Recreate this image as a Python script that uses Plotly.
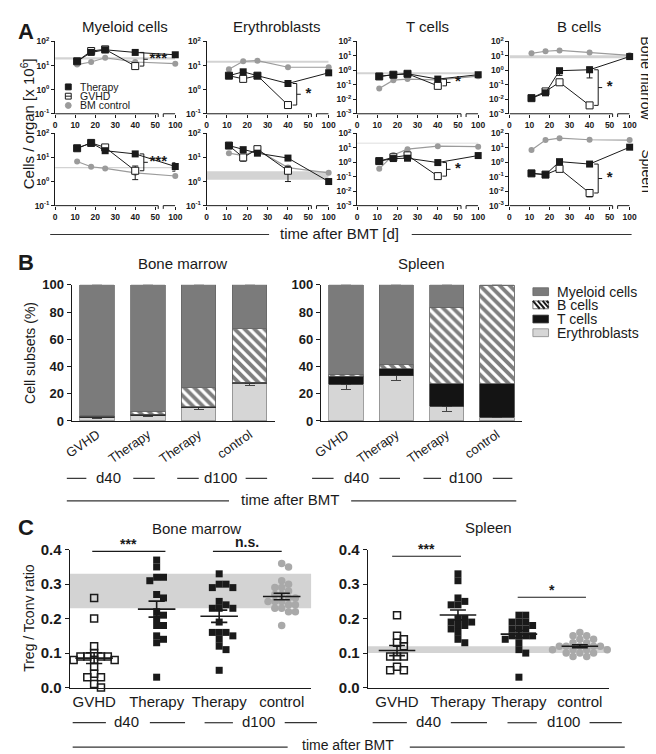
import numpy as np
import plotly.graph_objects as go

W, H = 656, 754
FONT = "Liberation Sans, Arial, Helvetica, sans-serif"
BLACK = "#1a1a1a"
GRAY = "#9b9b9b"
BAND = "#d3d3d3"
LINE = "#333333"

def px(p):
    return p / W

def py(p):
    return 1 - p / H

# ---------------- Panel A data ----------------
days = [11, 18, 25, 40, 100]
gvhd_days = [11, 18, 25, 40]
a_tick_days = [0, 10, 20, 30, 40, 50, 100]
a_titles = ["Myeloid cells", "Erythroblasts", "T cells", "B cells"]
a_rows = ["Bone marrow", "Spleen"]

mye_bm_ther = [15, 35, 45, 35, 28]
mye_bm_gvhd = [15, 40, 47, 9.5]
mye_bm_ctrl = [11, 14, 21, 14, 12]
mye_bm_band = [18, 22]

ery_bm_ther = [3.8, 5.5, 3.8, 1.8, 5.0]
ery_bm_gvhd = [3.8, 2.8, 3.8, 0.23]
ery_bm_ctrl = [7, 15, 16, 8.5, 8.5]
ery_bm_band = [13, 16]

t_bm_ther = [0.38, 0.5, 0.58, 0.25, 0.5]
t_bm_gvhd = [0.38, 0.5, 0.58, 0.085]
t_bm_ctrl = [0.055, 0.21, 0.25, 0.22, 0.4]
t_bm_band = [0.55, 0.75]

b_bm_ther = [0.012, 0.028, 0.95, 1.1, 9]
b_bm_gvhd = [0.012, 0.035, 0.15, 0.0038]
b_bm_ctrl = [15, 21, 24, 17, 11]
b_bm_band = [7, 11]

mye_sp_ther = [24, 40, 19, 14, 4.2]
mye_sp_gvhd = [24, 40, 26, 2.8]
mye_sp_ctrl = [6.8, 4.1, 3.5, 2.3, 1.7]
mye_sp_band = [3.6, 4.0]

ery_sp_ther = [31, 21, 15, 9.4, 1.0]
ery_sp_gvhd = [31, 10, 22, 2.8]
ery_sp_ctrl = [15, 12, 20, 3.8, 2.3]
ery_sp_band = [1.2, 2.7]

t_sp_ther = [1.2, 1.8, 1.9, 0.95, 2.9]
t_sp_gvhd = [1.2, 2.2, 3.0, 0.11]
t_sp_ctrl = [0.35, 3.2, 8, 13, 12]
t_sp_band = [19.5, 22]

b_sp_ther = [0.17, 0.14, 1.1, 0.75, 11]
b_sp_gvhd = [0.17, 0.14, 0.35, 0.0075]
b_sp_ctrl = [7, 34, 46, 36, 34]
b_sp_band = [32, 36]

# error bars (plus, minus)
b_bm_ther_err = ([0, 0, 0, 0.6, 0], [0, 0, 0.5, 0.8, 0])
b_bm_gvhd_err = ([0, 0.01, 0.05, 0], [0, 0.01, 0.04, 0])
mye_sp_ther_err = ([0, 0, 0, 0, 1.8], [0, 0, 0, 0, 1.5])
mye_sp_gvhd_err = ([0, 0, 0, 1.6], [0, 0, 0, 1.6])
ery_sp_gvhd_err = ([0, 3, 0, 1.5], [0, 3, 0, 1.8])
t_sp_gvhd_err = ([0, 0, 0, 0.03], [0, 0, 0, 0.04])
b_sp_gvhd_err = ([0, 0, 0.15, 0.004], [0, 0, 0.12, 0.0035])
ery_bm_ther_err = ([0, 0, 0, 0.4, 0], [0, 0, 0, 0.4, 0])

a_panels = [
    dict(ther=mye_bm_ther, gvhd=mye_bm_gvhd, ctrl=mye_bm_ctrl, band=mye_bm_band, dec=(-1, 2), sig="***"),
    dict(ther=ery_bm_ther, gvhd=ery_bm_gvhd, ctrl=ery_bm_ctrl, band=ery_bm_band, dec=(-1, 2), sig="*", ther_err=ery_bm_ther_err),
    dict(ther=t_bm_ther, gvhd=t_bm_gvhd, ctrl=t_bm_ctrl, band=t_bm_band, dec=(-3, 2), sig="*"),
    dict(ther=b_bm_ther, gvhd=b_bm_gvhd, ctrl=b_bm_ctrl, band=b_bm_band, dec=(-3, 2), sig="*", ther_err=b_bm_ther_err, gvhd_err=b_bm_gvhd_err),
    dict(ther=mye_sp_ther, gvhd=mye_sp_gvhd, ctrl=mye_sp_ctrl, band=mye_sp_band, dec=(-1, 2), sig="***", ther_err=mye_sp_ther_err, gvhd_err=mye_sp_gvhd_err),
    dict(ther=ery_sp_ther, gvhd=ery_sp_gvhd, ctrl=ery_sp_ctrl, band=ery_sp_band, dec=(-1, 2), sig="", gvhd_err=ery_sp_gvhd_err),
    dict(ther=t_sp_ther, gvhd=t_sp_gvhd, ctrl=t_sp_ctrl, band=t_sp_band, dec=(-3, 2), sig="*", gvhd_err=t_sp_gvhd_err),
    dict(ther=b_sp_ther, gvhd=b_sp_gvhd, ctrl=b_sp_ctrl, band=b_sp_band, dec=(-3, 2), sig="*", gvhd_err=b_sp_gvhd_err),
]

# ---------------- Panel B data ----------------
b_categories = ["GVHD", "Therapy", "Therapy", "control"]
b_legend = ["Myeloid cells", "B cells", "T cells", "Erythroblasts"]
bm_ery = [2.4, 4.0, 9.6, 27.6]
bm_t = [1.0, 0.8, 1.0, 0.9]
bm_b = [0.5, 2.4, 13.9, 39.3]
bm_mye = [96.1, 92.8, 75.5, 32.2]
bm_ery_err = [0.4, 1.0, 1.2, 1.5]
bm_mye_err = [0.4, 2.0, 7.5, 1.5]

sp_ery = [26.9, 33.2, 10.8, 2.9]
sp_t = [6.1, 5.3, 16.4, 24.3]
sp_b = [1.5, 3.3, 56.5, 72.0]
sp_mye = [65.5, 58.2, 16.3, 0.8]
sp_ery_err = [3.6, 3.2, 3.6, 0.3]
sp_mye_err = [4.7, 4.7, 4.7, 0.3]

# ---------------- Panel C data ----------------
c_categories = ["GVHD", "Therapy", "Therapy", "control"]
c_bm_gvhd = [0.26, 0.20, 0.12, 0.10, 0.09, 0.09, 0.09, 0.09, 0.08, 0.08, 0.08, 0.06, 0.04, 0.03, 0.03, 0.01, 0.00]
c_bm_ther40 = [0.37, 0.35, 0.32, 0.32, 0.31, 0.27, 0.26, 0.22, 0.21, 0.20, 0.18, 0.18, 0.15, 0.14, 0.13, 0.03]
c_bm_ther100 = [0.33, 0.30, 0.30, 0.29, 0.29, 0.25, 0.24, 0.23, 0.23, 0.23, 0.19, 0.16, 0.16, 0.16, 0.15, 0.14, 0.12, 0.11, 0.05]
c_bm_ctrl = [0.36, 0.35, 0.31, 0.30, 0.29, 0.29, 0.28, 0.27, 0.27, 0.26, 0.26, 0.25, 0.25, 0.25, 0.24, 0.24, 0.23, 0.23, 0.22, 0.22, 0.18]
c_bm_band = [0.23, 0.33]

c_sp_gvhd = [0.21, 0.15, 0.14, 0.13, 0.12, 0.09, 0.09, 0.09, 0.06, 0.05, 0.05]
c_sp_ther40 = [0.33, 0.31, 0.26, 0.25, 0.24, 0.24, 0.20, 0.20, 0.19, 0.19, 0.18, 0.18, 0.17, 0.16, 0.14, 0.13]
c_sp_ther100 = [0.21, 0.21, 0.19, 0.19, 0.19, 0.18, 0.17, 0.17, 0.17, 0.15, 0.15, 0.15, 0.15, 0.14, 0.13, 0.11, 0.10, 0.03]
c_sp_ctrl = [0.16, 0.15, 0.15, 0.14, 0.14, 0.13, 0.13, 0.12, 0.12, 0.12, 0.12, 0.12, 0.11, 0.11, 0.11, 0.11, 0.10, 0.10, 0.10, 0.09, 0.09]
c_sp_band = [0.10, 0.12]

# ---------------- helpers ----------------
def ax_id(i):
    return ("x" if i == 1 else f"x{i}"), ("y" if i == 1 else f"y{i}")

def ax_key(i):
    return ("xaxis" if i == 1 else f"xaxis{i}"), ("yaxis" if i == 1 else f"yaxis{i}")

def dpos(d):
    # broken axis: 100 days drawn right after the break
    return d if d <= 50 else 60

def err_dict(e, color=BLACK):
    if e is None:
        return None
    return dict(type="data", symmetric=False, array=e[0], arrayminus=e[1],
                color=color, thickness=1, width=3)

fig = go.Figure()
layout = dict(width=W, height=H, margin=dict(l=0, r=0, t=0, b=0),
              paper_bgcolor="white", plot_bgcolor="white", showlegend=False,
              barmode="stack", font=dict(family=FONT, color=BLACK))
shapes = []
annotations = []

def ann(text, x, y, size=15, angle=0, bold=False, xanchor="center", yanchor="middle", color=BLACK):
    annotations.append(dict(text=text, x=px(x), y=py(y), xref="paper", yref="paper",
                            showarrow=False, textangle=angle, xanchor=xanchor, yanchor=yanchor,
                            borderpad=0,
                            font=dict(size=size, family=FONT, color=color,
                                      weight="bold" if bold else "normal")))

def pline(x0, y0, x1, y1, width=1.2, color=LINE):
    shapes.append(dict(type="line", xref="paper", yref="paper", x0=px(x0), y0=py(y0),
                       x1=px(x1), y1=py(y1), line=dict(color=color, width=width)))

# ---------------- Panel A ----------------
a_x_dom = [(40, 163), (195, 320), (349, 473), (505, 628)]
a_y_dom = [(25, 99), (119, 193)]

for k, p in enumerate(a_panels):
    r, c = divmod(k, 4)
    i = k + 1
    xr, yr = ax_id(i)
    xk, yk = ax_key(i)
    lo, hi = p["dec"]
    layout[xk] = dict(domain=[px(a_x_dom[c][0]), px(a_x_dom[c][1])], anchor=yr,
                      range=[0, 60], showline=False, showgrid=False, zeroline=False,
                      tickvals=[dpos(d) for d in a_tick_days], ticktext=[str(d) for d in a_tick_days],
                      ticks="outside", ticklen=3, tickcolor=BLACK, tickwidth=1,
                      tickfont=dict(size=8.5, family=FONT, weight="bold"))
    tv = [10.0 ** e for e in range(lo, hi + 1)]
    layout[yk] = dict(domain=[py(a_y_dom[r][1]), py(a_y_dom[r][0])], anchor=xr,
                      type="log", range=[lo, hi], showline=True, linecolor=BLACK, linewidth=1,
                      showgrid=False, zeroline=False, tickvals=tv,
                      ticktext=[f"10<sup>{e}</sup>" for e in range(lo, hi + 1)],
                      ticks="outside", ticklen=3, tickcolor=BLACK,
                      tickfont=dict(size=8.5, family=FONT, weight="bold"))
    # reference band
    b0, b1 = p["band"]
    fig.add_trace(go.Scatter(x=[0, 60, 60, 0, 0], y=[b0, b0, b1, b1, b0], fill="toself",
                             fillcolor=BAND, line=dict(width=0), mode="lines",
                             xaxis=xr, yaxis=yr, hoverinfo="skip"))
    xs = [dpos(d) for d in days]
    xg = [dpos(d) for d in gvhd_days]
    fig.add_trace(go.Scatter(x=xs, y=p["ctrl"], mode="lines+markers", xaxis=xr, yaxis=yr,
                             line=dict(color=GRAY, width=1.2),
                             marker=dict(symbol="circle", size=6, color=GRAY),
                             error_y=err_dict(p.get("ctrl_err"), GRAY), cliponaxis=False))
    fig.add_trace(go.Scatter(x=xg, y=p["gvhd"], mode="lines+markers", xaxis=xr, yaxis=yr,
                             line=dict(color=BLACK, width=1),
                             marker=dict(symbol="square", size=7, color="white",
                                         line=dict(color=BLACK, width=1)),
                             error_y=err_dict(p.get("gvhd_err")), cliponaxis=False))
    fig.add_trace(go.Scatter(x=xs, y=p["ther"], mode="lines+markers", xaxis=xr, yaxis=yr,
                             line=dict(color=BLACK, width=1),
                             marker=dict(symbol="square", size=7, color=BLACK),
                             error_y=err_dict(p.get("ther_err")), cliponaxis=False))
    # significance bracket between day-40 values
    if p["sig"]:
        v1 = p["ther"][3]
        v2 = p["gvhd"][3]
        vm = float(np.sqrt(v1 * v2))
        fig.add_trace(go.Scatter(x=[42.3, 44.3, 44.3, 42.3, None, 44.3, 46.3],
                                 y=[v1, v1, v2, v2, None, vm, vm], mode="lines",
                                 line=dict(color=BLACK, width=1), xaxis=xr, yaxis=yr,
                                 cliponaxis=False, hoverinfo="skip"))
        fig.add_trace(go.Scatter(x=[51.5 if p["sig"] == "***" else 50], y=[vm], mode="text",
                                 text=[p["sig"]], textposition="middle center",
                                 textfont=dict(size=15, family=FONT, color=BLACK, weight="bold"),
                                 xaxis=xr, yaxis=yr, cliponaxis=False, hoverinfo="skip"))
    # broken x-axis line
    ydom = "y domain" if i == 1 else f"y{i} domain"
    for (s0, s1) in [(0, 51.5), (54, 60)]:
        shapes.append(dict(type="line", xref=xr, yref=ydom, x0=s0, x1=s1, y0=0, y1=0,
                           line=dict(color=BLACK, width=1)))
    for s in [51.5, 54]:
        shapes.append(dict(type="line", xref=xr, yref=ydom, x0=s, x1=s, y0=0, y1=-0.045,
                           line=dict(color=BLACK, width=1)))

ann("A", 1, 1, size=22, bold=True, xanchor="left", yanchor="top")
for c, t in enumerate(a_titles):
    ann(t, (a_x_dom[c][0] + a_x_dom[c][1]) / 2 + 10, 10, size=15)
ann(a_rows[0], 645, 63, size=14, angle=90)
ann(a_rows[1], 645, 158, size=14, angle=90)
ann("Cells / organ [x 10<sup>6</sup>]", 12, 109, size=15, angle=-90)
ann("time after BMT [d]", 331, 222, size=15)
pline(35, 222.5, 259, 222.5)
pline(405, 222.5, 630, 222.5)

# Panel A legend (drawn manually)
leg_a = [("Therapy", 71.5), ("GVHD", 81), ("BM control", 90.5)]
shapes.append(dict(type="rect", xref="paper", yref="paper", x0=px(50.5), x1=px(56.5),
                   y0=py(74.5), y1=py(68.5), fillcolor=BLACK, line=dict(color=BLACK, width=1)))
shapes.append(dict(type="rect", xref="paper", yref="paper", x0=px(50.5), x1=px(56.5),
                   y0=py(84), y1=py(78), fillcolor="white", line=dict(color=BLACK, width=1)))
pline(50.5, 81, 56.5, 81, width=1, color=BLACK)
shapes.append(dict(type="circle", xref="paper", yref="paper", x0=px(50.5), x1=px(56.5),
                   y0=py(93.5), y1=py(87.5), fillcolor=GRAY, line=dict(color=GRAY, width=1)))
for t, yy in leg_a:
    ann(t, 64, yy, size=10.5, xanchor="left")

# ---------------- Panel B ----------------
b_x_dom = [(57, 265), (312, 518)]
b_y_dom = (274, 413.3)
b_sets = [
    (bm_ery, bm_t, bm_b, bm_mye, bm_ery_err, bm_mye_err),
    (sp_ery, sp_t, sp_b, sp_mye, sp_ery_err, sp_mye_err),
]
MYE_C = "#7b7b7b"
ERY_C = "#d6d6d6"
T_C = "#141414"
for j, (ery, tc, bc, mye, ery_err, mye_err) in enumerate(b_sets):
    i = 9 + j
    xr, yr = ax_id(i)
    xk, yk = ax_key(i)
    layout[xk] = dict(domain=[px(b_x_dom[j][0]), px(b_x_dom[j][1])], anchor=yr,
                      range=[-0.5, 3.5], showline=True, linecolor=BLACK, linewidth=1.2,
                      showgrid=False, zeroline=False, tickvals=[0, 1, 2, 3],
                      ticktext=b_categories, tickangle=-35, ticks="",
                      tickfont=dict(size=13, family=FONT))
    layout[yk] = dict(domain=[py(b_y_dom[1]), py(b_y_dom[0])], anchor=xr, range=[0, 100],
                      showline=True, linecolor=BLACK, linewidth=1.2, showgrid=False,
                      zeroline=False, tickvals=[0, 20, 40, 60, 80, 100], ticks="outside",
                      ticklen=4, tickcolor=BLACK, tickfont=dict(size=13, family=FONT, weight="bold"))
    xs = [0, 1, 2, 3]
    common = dict(x=xs, xaxis=xr, yaxis=yr, width=0.68, cliponaxis=False, hoverinfo="skip")
    fig.add_trace(go.Bar(y=ery, marker=dict(color=ERY_C, line=dict(color="#888", width=0.8)),
                         error_y=dict(type="data", symmetric=False, array=[0] * 4,
                                      arrayminus=ery_err, color="#444", thickness=1, width=5),
                         **common))
    fig.add_trace(go.Bar(y=tc, marker=dict(color=T_C, line=dict(color="#333", width=0.8)), **common))
    fig.add_trace(go.Bar(y=bc, marker=dict(color="white", line=dict(color="#555", width=0.8),
                                           pattern=dict(shape="\\", fgcolor="black", bgcolor="white",
                                                        size=7, solidity=0.55)), **common))
    fig.add_trace(go.Bar(y=mye, marker=dict(color=MYE_C, line=dict(color="#666", width=0.8)),
                         error_y=dict(type="data", symmetric=False, array=mye_err,
                                      arrayminus=[0] * 4, color="#444", thickness=1, width=5),
                         **common))

ann("B", 1, 251, size=22, bold=True, xanchor="left")
ann("Bone marrow", 170, 252, size=15)
ann("Spleen", 415, 252, size=15)
ann("Cell subsets (%)", 15, 344, size=14, angle=-90)
for (l0, l1, t, tx, r0, r1) in [(52, 72, "d40", 95, 120, 142), (165, 187, "d100", 209, 235, 257),
                                (303, 325, "d40", 348, 372, 393), (417, 435, "d100", 460, 488, 508)]:
    pline(l0, 472, l1, 472)
    pline(r0, 472, r1, 472)
    ann(t, tx, 471, size=15)
pline(52, 495, 218, 495)
pline(343, 495, 512, 495)
ann("time after BMT", 280, 494, size=15)

# Panel B legend (drawn manually)
legend_rows = [281, 294.5, 309, 323]
lx0, lx1 = 529, 545
swatch = [(MYE_C, "#666"), ("white", "#555"), (T_C, "#333"), (ERY_C, "#888")]
for (fc, lc), yy, t in zip(swatch, legend_rows, b_legend):
    shapes.append(dict(type="rect", xref="paper", yref="paper", x0=px(lx0), x1=px(lx1),
                       y0=py(yy + 4), y1=py(yy - 4), fillcolor=fc, line=dict(color=lc, width=0.8)))
    ann(t, 553, yy, size=14, xanchor="left")
for s in [529, 534, 539]:
    x_end = min(s + 7, lx1)
    y_end = legend_rows[1] - 4 + (x_end - s) * 8 / 7
    pline(s, legend_rows[1] - 4, x_end, y_end, width=2, color=BLACK)
pline(543, legend_rows[1] - 4, 545, legend_rows[1] - 4 + 2 * 8 / 7, width=2, color=BLACK)

# ---------------- Panel C ----------------
def swarm(vals, ypx_per_unit, xpx_per_cat, diam=7.0, step=3.5):
    """Deterministic beeswarm: place points top-down at the nearest free column."""
    order = sorted(range(len(vals)), key=lambda q: -vals[q])
    placed = []
    offs = [0.0] * len(vals)
    cands = [0.0]
    for k in range(1, 16):
        cands += [k * step, -k * step]
    for q in order:
        yv = vals[q] * ypx_per_unit
        for cx in cands:
            if all((cx - ox) ** 2 + (yv - oy) ** 2 >= diam ** 2 for ox, oy in placed):
                break
        placed.append((cx, yv))
        offs[q] = cx / xpx_per_cat
    return offs

c_x_dom = [(55, 302), (360, 607)]
c_ranges = [[-0.39, 3.47], [-0.48, 3.48]]
c_y_dom = (545, 686)
c_sets = [
    ([c_bm_gvhd, c_bm_ther40, c_bm_ther100, c_bm_ctrl], c_bm_band),
    ([c_sp_gvhd, c_sp_ther40, c_sp_ther100, c_sp_ctrl], c_sp_band),
]
styles = [
    dict(symbol="square-open", size=7, color=BLACK, line=dict(width=1.5, color=BLACK)),
    dict(symbol="square", size=7, color=BLACK),
    dict(symbol="square", size=7, color=BLACK),
    dict(symbol="circle", size=7.5, color="#a9a9a9"),
]
for j, (groups, band) in enumerate(c_sets):
    i = 11 + j
    xr, yr = ax_id(i)
    xk, yk = ax_key(i)
    layout[xk] = dict(domain=[px(c_x_dom[j][0]), px(c_x_dom[j][1])], anchor=yr,
                      range=c_ranges[j], showline=True, linecolor=BLACK, linewidth=1.2,
                      showgrid=False, zeroline=False, tickvals=[0, 1, 2, 3],
                      ticktext=c_categories, ticks="", tickfont=dict(size=15, family=FONT))
    layout[yk] = dict(domain=[py(c_y_dom[1]), py(c_y_dom[0])], anchor=xr, range=[0, 0.4],
                      showline=True, linecolor=BLACK, linewidth=1.2, showgrid=False,
                      zeroline=False, tickvals=[0, 0.1, 0.2, 0.3, 0.4],
                      ticktext=["0.0", "0.1", "0.2", "0.3", "0.4"], ticks="outside", ticklen=4,
                      tickcolor=BLACK, tickfont=dict(size=15, family=FONT, weight="bold"))
    shapes.append(dict(type="rect", xref=f"{xr} domain", yref=yr, x0=0, x1=1, y0=band[0],
                       y1=band[1], fillcolor=BAND, line=dict(width=0), layer="below"))
    ypu = (c_y_dom[1] - c_y_dom[0]) / 0.4
    xpc = (c_x_dom[j][1] - c_x_dom[j][0]) / (c_ranges[j][1] - c_ranges[j][0])
    for g, vals in enumerate(groups):
        offs = swarm(vals, ypu, xpc)
        fig.add_trace(go.Scatter(x=[g + o for o in offs], y=vals, mode="markers",
                                 marker=styles[g], xaxis=xr, yaxis=yr, cliponaxis=False,
                                 hoverinfo="skip"))
        arr = np.array(vals)
        m = float(arr.mean())
        sem = float(arr.std(ddof=1) / np.sqrt(len(arr)))
        fig.add_trace(go.Scatter(
            x=[g - 0.3, g + 0.3, None, g, g, None, g - 0.13, g + 0.13, None, g - 0.13, g + 0.13],
            y=[m, m, None, m - sem, m + sem, None, m - sem, m - sem, None, m + sem, m + sem],
            mode="lines", line=dict(color=BLACK, width=1.6), xaxis=xr, yaxis=yr,
            cliponaxis=False, hoverinfo="skip"))

# significance lines in C
c_sig = [(11, -0.03, 1.14, 0.395, "***"), (11, 1.9, 3.0, 0.395, "n.s."),
         (12, -0.08, 1.05, 0.381, "***"), (12, 1.98, 3.1, 0.262, "*")]
for (i, x0, x1, yv, t) in c_sig:
    xr, yr = ax_id(i)
    shapes.append(dict(type="line", xref=xr, yref=yr, x0=x0, x1=x1, y0=yv, y1=yv,
                       line=dict(color=BLACK, width=1.2)))
    annotations.append(dict(text=t, x=(x0 + x1) / 2, y=yv, xref=xr, yref=yr, showarrow=False,
                            yanchor="bottom", yshift=-3 if t != "n.s." else -1,
                            font=dict(size=14, family=FONT, color=BLACK, weight="bold")))

ann("C", 1, 522, size=22, bold=True, xanchor="left")
ann("Bone marrow", 185, 523, size=15)
ann("Spleen", 484, 522, size=15)
ann("Treg / Tconv ratio", 13, 615, size=14, angle=-90)
for (l0, l1, t, tx, r0, r1) in [(58, 92, "d40", 113, 137, 173), (193, 222, "d100", 248, 275, 308),
                                (365, 400, "d40", 422, 445, 482), (503, 533, "d100", 560, 587, 620)]:
    pline(l0, 722, l1, 722)
    pline(r0, 722, r1, 722)
    ann(t, tx, 721, size=15)
pline(58, 747, 278, 747)
pline(403, 747, 623, 747)
ann("time after BMT", 340, 745, size=14)

layout["shapes"] = shapes
layout["annotations"] = annotations
fig.update_layout(**layout)
fig.write_html("out.html")
